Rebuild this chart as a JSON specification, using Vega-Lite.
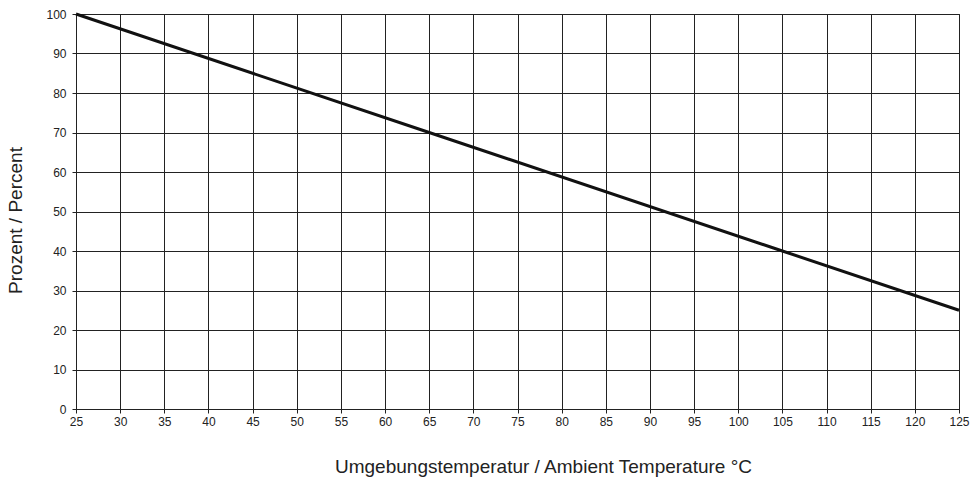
{
  "$schema": "https://vega.github.io/schema/vega-lite/v6.json",
  "autosize": "none",
  "width": 883,
  "height": 395,
  "padding": {"left": 76, "top": 14, "right": 12, "bottom": 71},
  "background": "white",
  "config": {
    "view": {"stroke": "#222"},
    "font": "Liberation Sans",
    "axis": {
      "domainColor": "#222",
      "gridColor": "#222",
      "gridOpacity": 1,
      "gridWidth": 1,
      "tickColor": "#222",
      "tickSize": 4,
      "labelColor": "#222",
      "labelFontSize": 12,
      "labelFont": "Liberation Sans",
      "titleFont": "Liberation Sans",
      "titleFontSize": 19,
      "titleFontWeight": "normal",
      "titleColor": "#222"
    }
  },
  "data": {"values": [
    {"t": 25, "p": 100},
    {"t": 65, "p": 70},
    {"t": 105, "p": 40},
    {"t": 125, "p": 25}
  ]},
  "mark": {"type": "line", "color": "#111", "strokeWidth": 3},
  "encoding": {
    "x": {"field": "t", "type": "quantitative",
      "scale": {"domain": [25, 125], "nice": false, "zero": false},
      "axis": {"values": [25,30,35,40,45,50,55,60,65,70,75,80,85,90,95,100,105,110,115,120,125],
        "title": "Umgebungstemperatur / Ambient Temperature °C", "titlePadding": 30, "titleX": 467, "titleAlign": "center", "labelPadding": 3, "labelFlush": false}},
    "y": {"field": "p", "type": "quantitative",
      "scale": {"domain": [0, 100], "nice": false},
      "axis": {"values": [0,10,20,30,40,50,60,70,80,90,100], "title": "Prozent / Percent", "titlePadding": 20, "titleY": 206, "titleAlign": "center", "labelPadding": 6}}
  }
}
